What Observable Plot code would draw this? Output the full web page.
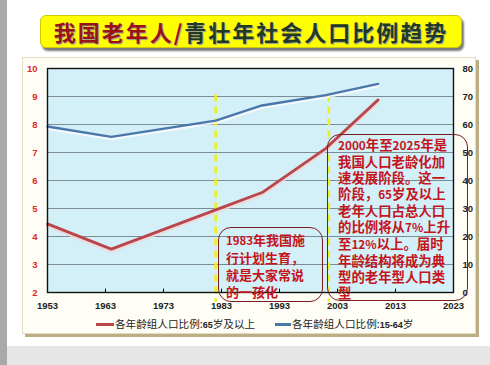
<!DOCTYPE html>
<html><head><meta charset="utf-8">
<script src="https://cdn.jsdelivr.net/npm/d3@7"></script>
<script src="https://cdn.jsdelivr.net/npm/@observablehq/plot@0.6"></script>
<style>
body{margin:0;width:490px;height:365px;background:#e6e6e6;position:relative;overflow:hidden;font-family:"Noto Sans CJK SC","Noto Sans",sans-serif}
#strip{position:absolute;left:0;top:0;width:7px;height:365px;background:#a9a9a9}
#page{position:absolute;left:7px;top:0;width:483px;height:346px;background:#fff}
#title{position:absolute;left:40px;top:15px;width:420px;height:31px;background:#ffff00;border-radius:6px;box-shadow:2px 3px 2px #7a7a7a;border:1px solid #d0c800;text-align:center;font-size:22px;font-weight:700;line-height:31px;letter-spacing:2px;white-space:nowrap;text-shadow:1px 1px 1px #999}
#frame{position:absolute;left:22px;top:57px;width:452px;height:275px;background:#fffef6;border:1px solid #e4dbc0;box-shadow:3px 3px 0 #bcae84}
#chart{position:absolute;left:22px;top:57px}
.box{position:absolute;border:1.6px solid #7a1c22;border-radius:13px;box-sizing:border-box}
.note{position:absolute;color:#c4141c;font-weight:700;white-space:nowrap}
.note .n{font-size:0.88em}
#legend{position:absolute;top:315px;left:0;width:490px;height:18px;font-size:10.6px;color:#222}
#legend .n{font-size:9px;font-weight:700;font-family:"Liberation Sans",Arial,sans-serif}
.sw{position:absolute;top:8px;height:3px}
.lt{position:absolute;top:0;line-height:17px;white-space:nowrap}
</style></head>
<body>
<div id="strip"></div>
<div id="page"></div>
<div id="title"></div>
<div id="frame"></div>
<div id="chart"></div>
<div id="notes"></div>
<div id="legend"></div>
<script>
// ---- data ----
const titleOld = "我国老年人/";
const titleRest = "青壮年社会人口比例趋势";
const years = [1953, 1964, 1982, 1990, 2001, 2010];
const old65 = [4.45, 3.55, 4.95, 5.57, 7.15, 8.88];          // left axis (%)
const adult1564 = [59.3, 55.6, 61.4, 66.8, 70.5, 74.5];      // right axis (%)
const xTicks = [1953, 1963, 1973, 1983, 1993, 2003, 2013, 2023];
const leftTicks = [2, 3, 4, 5, 6, 7, 8, 9, 10];
const rightTicks = [0, 10, 20, 30, 40, 50, 60, 70, 80];
const markerYears = [1982, 2001.5];
const seriesNames = ["各年龄组人口比例:65岁及以上", "各年龄组人口比例:15-64岁"];
const note1 = ["1983年我国施", "行计划生育，", "就是大家常说", "的一孩化"];
const note2 = ["2000年至2025年是", "我国人口老龄化加", "速发展阶段。这一", "阶段，65岁及以上", "老年人口占总人口", "的比例将从7%上升", "至12%以上。届时", "年龄结构将成为典", "型的老年型人口类", "型"];

const RED = "#b8464b", BLUE = "#4a77aa";
const digits = s => s.replace(/[0-9%\-]+/g, m => `<span class="n">${m}</span>`);

document.getElementById("title").innerHTML =
  `<span style="color:#9a1212">${titleOld}</span><span style="color:#1f3a20">${titleRest}</span>`;

// right axis mapped onto left scale: v -> 2 + v/10
const toLeft = v => 2 + v / 10;
const redData = years.map((y, i) => ({year: y, v: old65[i]}));
const blueData = years.map((y, i) => ({year: y, v: toLeft(adult1564[i])}));
const axisFont = "Liberation Sans, Arial, sans-serif";

const chart = Plot.plot({
  width: 456, height: 256,
  marginLeft: 25, marginRight: 25, marginTop: 11, marginBottom: 21,
  style: {background: "transparent", overflow: "visible"},
  x: {domain: [1953, 2023]},
  y: {domain: [2, 10]},
  marks: [
    Plot.frame({fill: "#d3eff8"}),
    Plot.ruleY(leftTicks.slice(1, -1), {stroke: "#7d8b92", strokeWidth: 1}),
    Plot.ruleX(xTicks.slice(1, -1), {y1: 2, y2: 2.12, stroke: "#000", strokeWidth: 1}),
    Plot.ruleX(markerYears, {y1: 9.05, y2: 1.65, stroke: "#f0ef1e", strokeWidth: 2.6, strokeDasharray: "7,5"}),
    Plot.line(blueData, {x: "year", y: "v", stroke: "#ffffff", strokeOpacity: 0.7, strokeWidth: 3, dy: 2}),
    Plot.line(blueData, {x: "year", y: "v", stroke: BLUE, strokeWidth: 2.4}),
    Plot.line(redData, {x: "year", y: "v", stroke: "#f2d6d6", strokeOpacity: 0.8, strokeWidth: 3.5, dy: 2}),
    Plot.line(redData, {x: "year", y: "v", stroke: RED, strokeWidth: 2.8}),
    Plot.frame({stroke: "#111", strokeWidth: 1.4}),
    Plot.axisY(leftTicks, {anchor: "left", tickSize: 0, tickPadding: 10, fill: "#e02828", fontWeight: "bold", fontSize: 9.5, fontFamily: axisFont, label: null}),
    Plot.axisY(leftTicks, {anchor: "right", tickSize: 0, tickPadding: 9, fill: "#222", fontWeight: "bold", fontSize: 9.5, fontFamily: axisFont, tickFormat: d => String(rightTicks[leftTicks.indexOf(d)]), label: null}),
    Plot.axisX(xTicks, {anchor: "bottom", tickSize: 0, tickPadding: 10, fill: "#222", fontWeight: "bold", fontSize: 9.5, fontFamily: axisFont, tickFormat: d => String(d), label: null})
  ]
});
document.getElementById("chart").appendChild(chart);

// annotations
const notes = document.getElementById("notes");
function addBox(l, t, w, h) {
  const d = document.createElement("div");
  d.className = "box";
  Object.assign(d.style, {left: l + "px", top: t + "px", width: w + "px", height: h + "px"});
  notes.appendChild(d);
}
function addNote(lines, l, t, fs, lh) {
  const d = document.createElement("div");
  d.className = "note";
  Object.assign(d.style, {left: l + "px", top: t + "px", fontSize: fs + "px", lineHeight: lh + "px"});
  d.innerHTML = lines.map(digits).join("<br>");
  notes.appendChild(d);
}
addBox(218, 227, 105, 75);
addNote(note1, 226, 231, 13, 17);
addBox(327, 134, 141, 167);
addNote(note2, 338, 136, 13.4, 16);

// legend
const lg = document.getElementById("legend");
lg.innerHTML = `
<div class="sw" style="left:96px;width:18px;background:${RED}"></div>
<div class="lt" style="left:115px">${digits(seriesNames[0])}</div>
<div class="sw" style="left:275px;width:16px;background:${BLUE}"></div>
<div class="lt" style="left:292px">${digits(seriesNames[1])}</div>`;
</script>
</body></html>
